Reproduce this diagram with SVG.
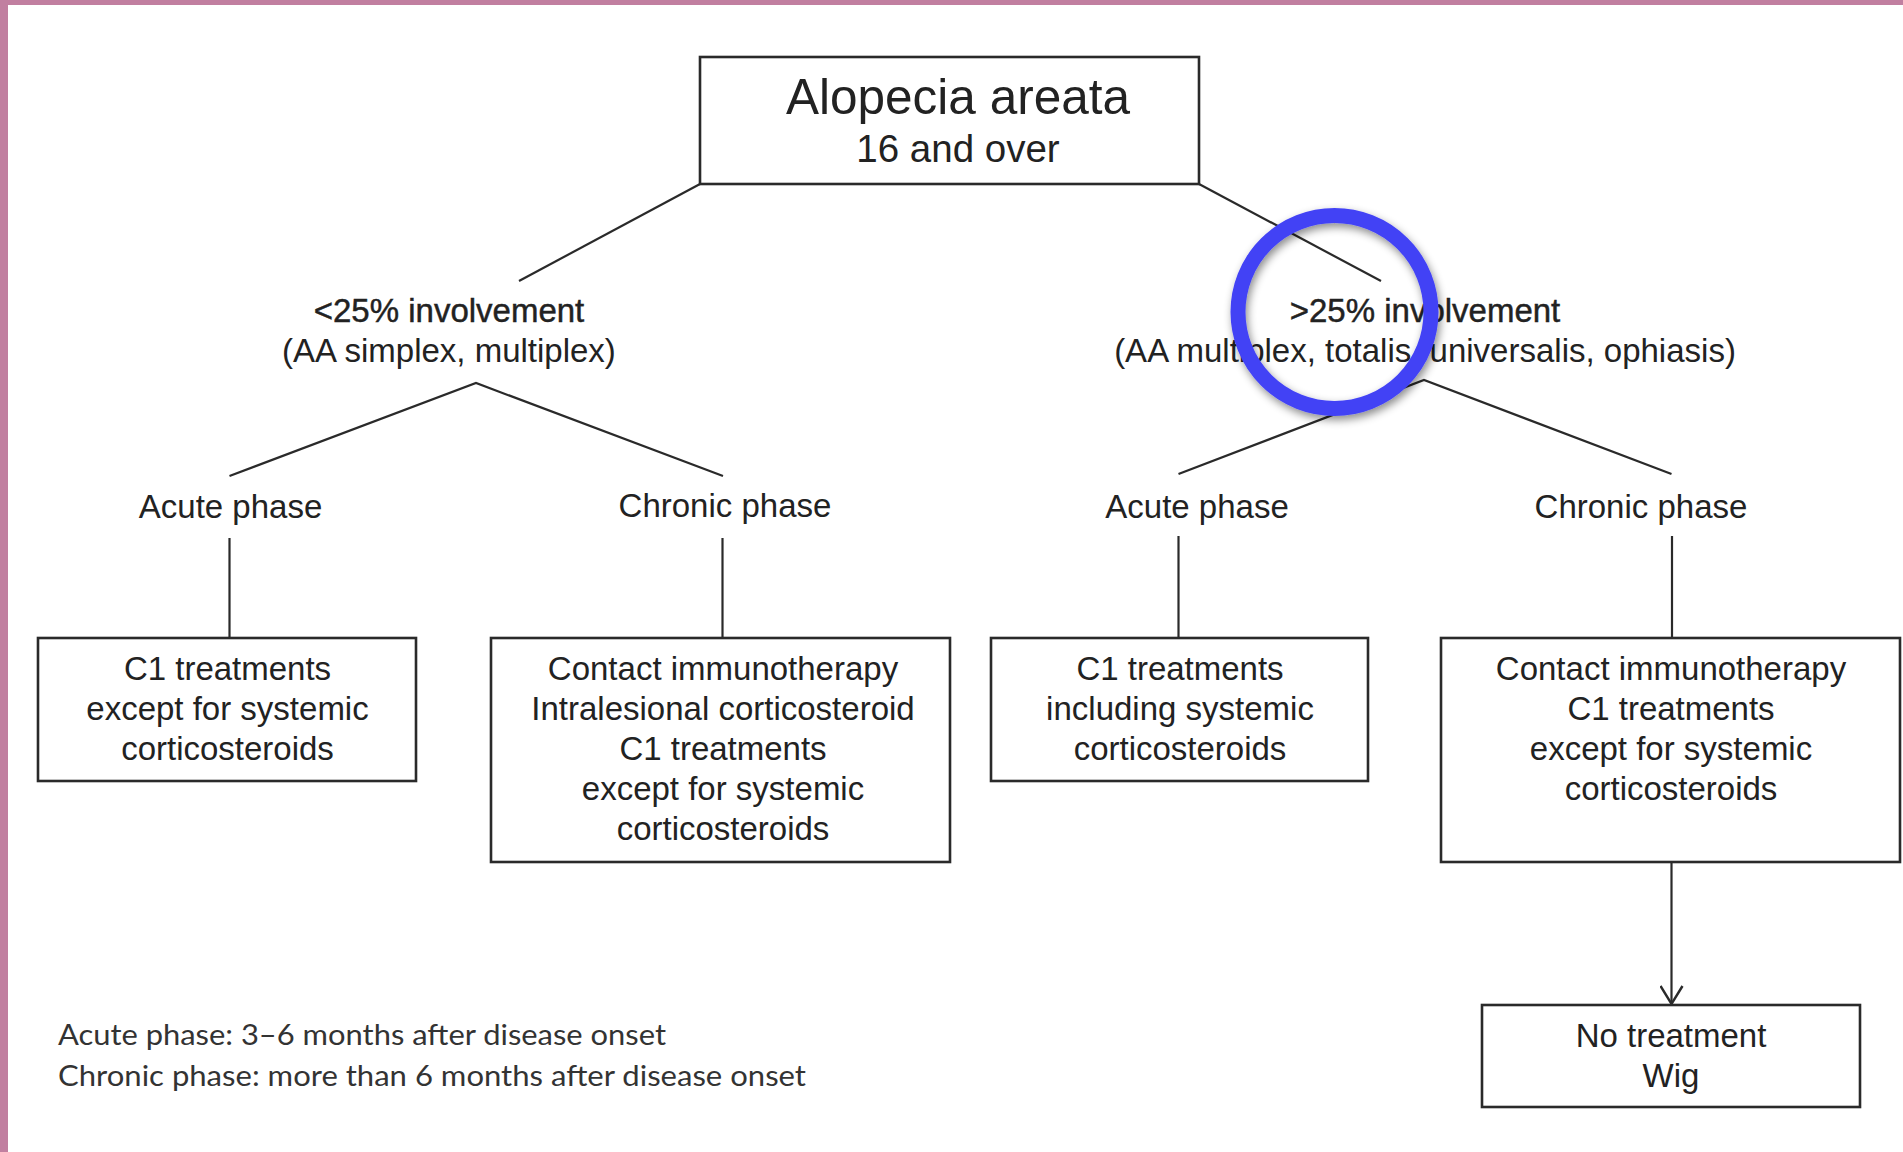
<svg xmlns="http://www.w3.org/2000/svg" width="1903" height="1152" viewBox="0 0 1903 1152">
<defs>
<style>
.box{fill:#fff;stroke:#2a2a2a;stroke-width:2.6}
.ln{fill:none;stroke:#2a2a2a;stroke-width:2.2}
.t{font-family:"Liberation Sans",Arial,Helvetica,sans-serif;fill:#222;text-anchor:middle}
.t33{font-size:33px}
.hd{font-size:33px;stroke:#222;stroke-width:0.45}
.fn{font-family:Lato,"Open Sans",sans-serif;font-size:29px;fill:#333}
</style>
<marker id="arr" markerWidth="24" markerHeight="24" refX="20" refY="12" orient="auto" markerUnits="userSpaceOnUse" viewBox="0 0 24 24">
<path d="M2,1 L20,12 L2,23" fill="none" stroke="#2a2a2a" stroke-width="2.4"/>
</marker>
<filter id="sh" x="-30%" y="-30%" width="160%" height="160%">
<feDropShadow dx="2" dy="4" stdDeviation="4" flood-color="#000" flood-opacity="0.45"/>
</filter>
</defs>
<rect x="0" y="0" width="1903" height="1152" fill="#fff"/>
<rect x="0" y="0" width="1903" height="5" fill="#C17FA0"/>
<rect x="0" y="0" width="8" height="1152" fill="#C17FA0"/>

<g id="connectors">
<path class="ln" d="M700,184 L519,281"/>
<path class="ln" d="M1199,184 L1381,281"/>
<path class="ln" d="M229.5,476 L476,383 L723,476"/>
<path class="ln" d="M1178.5,474 L1424,380 L1671.5,474"/>
<path class="ln" d="M229.5,538 L229.5,638"/>
<path class="ln" d="M722.5,538 L722.5,638"/>
<path class="ln" d="M1178.5,536 L1178.5,638"/>
<path class="ln" d="M1672,536 L1672,638"/>
<path class="ln" d="M1671.5,862 L1671.5,1004" marker-end="url(#arr)"/>
</g>

<g id="root">
<rect class="box" x="700" y="57" width="499" height="127"/>
<text class="t" x="958" y="114" font-size="49.5">Alopecia areata</text>
<text class="t" x="958" y="162" font-size="38.5">16 and over</text>
</g>

<g id="lt25">
<text class="t hd" x="449" y="322">&lt;25% involvement</text>
<text class="t t33" x="449" y="362">(AA simplex, multiplex)</text>
</g>

<g id="gt25">
<text class="t hd" x="1425" y="322">&gt;25% involvement</text>
<text class="t t33" x="1425" y="362">(AA multiplex, totalis, universalis, ophiasis)</text>
</g>

<g id="acute-l"><text class="t t33" x="230.5" y="518">Acute phase</text></g>
<g id="chronic-l"><text class="t t33" x="725" y="517">Chronic phase</text></g>
<g id="acute-r"><text class="t t33" x="1197" y="518">Acute phase</text></g>
<g id="chronic-r"><text class="t t33" x="1641" y="518">Chronic phase</text></g>

<g id="box-acute-l">
<rect class="box" x="38" y="638" width="378" height="143"/>
<text class="t t33" x="227.5" y="680">C1 treatments</text>
<text class="t t33" x="227.5" y="720">except for systemic</text>
<text class="t t33" x="227.5" y="760">corticosteroids</text>
</g>

<g id="box-chronic-l">
<rect class="box" x="491" y="638" width="459" height="224"/>
<text class="t t33" x="723" y="680">Contact immunotherapy</text>
<text class="t t33" x="723" y="720">Intralesional corticosteroid</text>
<text class="t t33" x="723" y="760">C1 treatments</text>
<text class="t t33" x="723" y="800">except for systemic</text>
<text class="t t33" x="723" y="840">corticosteroids</text>
</g>

<g id="box-acute-r">
<rect class="box" x="991" y="638" width="377" height="143"/>
<text class="t t33" x="1180" y="680">C1 treatments</text>
<text class="t t33" x="1180" y="720">including systemic</text>
<text class="t t33" x="1180" y="760">corticosteroids</text>
</g>

<g id="box-chronic-r">
<rect class="box" x="1441" y="638" width="459" height="224"/>
<text class="t t33" x="1671" y="680">Contact immunotherapy</text>
<text class="t t33" x="1671" y="720">C1 treatments</text>
<text class="t t33" x="1671" y="760">except for systemic</text>
<text class="t t33" x="1671" y="800">corticosteroids</text>
</g>

<g id="box-none">
<rect class="box" x="1482" y="1005" width="378" height="102"/>
<text class="t t33" x="1671" y="1047">No treatment</text>
<text class="t t33" x="1671" y="1087">Wig</text>
</g>

<g id="footnote">
<text class="fn" x="58" y="1045" textLength="608" lengthAdjust="spacingAndGlyphs">Acute phase: 3–6 months after disease onset</text>
<text class="fn" x="58" y="1086" textLength="748" lengthAdjust="spacingAndGlyphs">Chronic phase: more than 6 months after disease onset</text>
</g>

<g id="highlight">
<circle cx="1334.5" cy="312" r="96.5" fill="none" stroke="#4343F5" stroke-width="15" filter="url(#sh)"/>
</g>
</svg>
